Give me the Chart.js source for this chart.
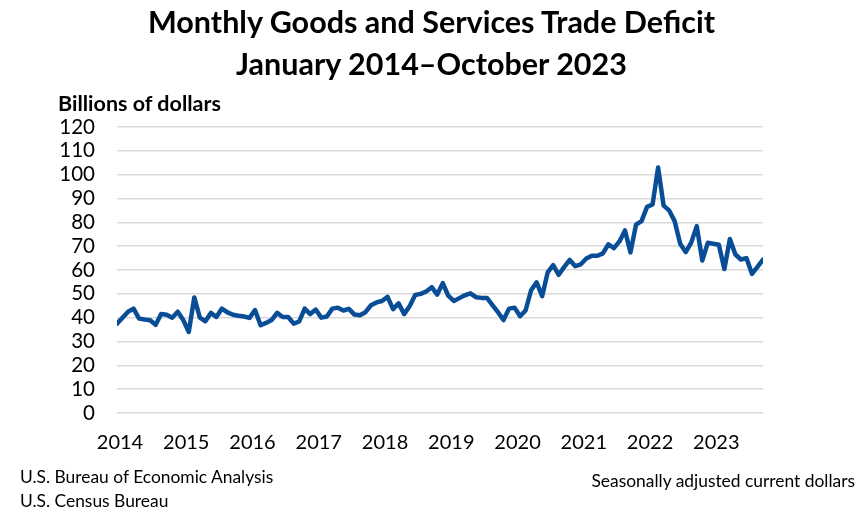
<!DOCTYPE html>
<html>
<head>
<meta charset="utf-8">
<script src="https://cdn.jsdelivr.net/npm/chart.js@4/dist/chart.umd.min.js"></script>
<style>
  html, body { margin: 0; padding: 0; background: #fff; }
  #wrap { position: relative; width: 863px; height: 524px; font-family: Lato, "Open Sans", sans-serif; color: #000; }
  #c { position: absolute; left: 0; top: 0; }
  .t { position: absolute; white-space: nowrap; }
  #title { left: 0; width: 863px; text-align: center; top: 0px; font-weight: bold; font-size: 30.5px; line-height: 42px; }
  #ylab { left: 58px; top: 90px; font-weight: bold; font-size: 21.5px; }
  #src1 { left: 20px; top: 466px; font-size: 17.4px; }
  #src2 { left: 20px; top: 490px; font-size: 17.4px; }
  #note { right: 8px; top: 470px; font-size: 17.4px; }
</style>
</head>
<body>
<div id="wrap">
  <canvas id="c" width="863" height="524"></canvas>
  <div class="t" id="title">Monthly Goods and Services Trade Deficit<br>January 2014–October 2023</div>
  <div class="t" id="ylab">Billions of dollars</div>
  <div class="t" id="src1">U.S. Bureau of Economic Analysis</div>
  <div class="t" id="src2">U.S. Census Bureau</div>
  <div class="t" id="note">Seasonally adjusted current dollars</div>
</div>
<script>
// Tick labels (one per January)
const yearLabels = ["2014","2015","2016","2017","2018","2019","2020","2021","2022","2023"];
const yTicks = [0,10,20,30,40,50,60,70,80,90,100,110,120];

// Monthly deficit, billions of dollars, Jan 2014 – Oct 2023
const deficit2014 = [37.5, 40.0, 42.5, 43.8, 39.6, 39.2, 38.9, 37.0, 41.5, 41.2, 40.0, 42.5];
const deficit2015 = [39.0, 34.0, 48.5, 40.0, 38.5, 42.0, 40.3, 43.8, 42.2, 41.2, 40.8, 40.5];
const deficit2016 = [39.9, 43.2, 36.8, 37.8, 39.0, 42.0, 40.3, 40.3, 37.5, 38.4, 43.8, 41.5];
const deficit2017 = [43.4, 40.0, 40.5, 43.8, 44.2, 43.0, 43.7, 41.3, 41.0, 42.3, 45.2, 46.4];
const deficit2018 = [47.0, 48.7, 43.6, 46.0, 41.5, 44.8, 49.5, 50.0, 51.0, 52.8, 49.7, 54.5];
const deficit2019 = [49.2, 47.0, 48.2, 49.4, 50.2, 48.6, 48.3, 48.3, 45.3, 42.3, 39.0, 43.8];
const deficit2020 = [44.2, 40.6, 43.0, 51.5, 54.8, 49.0, 59.0, 62.0, 58.0, 61.3, 64.2, 61.6];
const deficit2021 = [62.4, 64.8, 66.0, 66.0, 67.0, 70.8, 69.2, 72.0, 76.6, 67.4, 79.0, 80.5];
const deficit2022 = [86.5, 87.5, 103.0, 87.0, 85.0, 80.5, 71.0, 67.5, 71.5, 78.4, 64.0, 71.4];
const deficit2023 = [71.0, 70.6, 60.4, 73.0, 66.5, 64.4, 65.0, 58.4, 61.3, 64.4];

const deficit = [].concat(deficit2014, deficit2015, deficit2016, deficit2017, deficit2018,
                          deficit2019, deficit2020, deficit2021, deficit2022, deficit2023);
const points = deficit.map((v, i) => ({ x: i, y: v }));

const FONT = "Lato, 'Open Sans', sans-serif";

new Chart(document.getElementById('c'), {
  type: 'line',
  data: {
    datasets: [{
      data: points,
      borderColor: '#0a4d97',
      borderWidth: 4.5,
      pointRadius: 0,
      tension: 0,
      fill: false,
      borderJoinStyle: 'round',
      borderCapStyle: 'round'
    }]
  },
  options: {
    responsive: false,
    animation: false,
    layout: { padding: { top: 127, right: 100, bottom: 0, left: 0 } },
    plugins: { legend: { display: false }, tooltip: { enabled: false }, title: { display: false } },
    scales: {
      x: {
        type: 'linear',
        min: 0,
        max: deficit.length - 1,
        afterBuildTicks: (s) => { s.ticks = yearLabels.map((_, k) => ({ value: k * 12 })); },
        afterFit: (s) => { s.height = 111; },
        grid: { display: false, drawTicks: false },
        border: { display: false },
        ticks: {
          autoSkip: false,
          maxRotation: 0,
          padding: 18,
          labelOffset: 3,
          color: '#000',
          font: { family: FONT, size: 20 },
          callback: (v) => yearLabels[Math.round(v / 12)]
        }
      },
      y: {
        min: 0,
        max: 120,
        afterBuildTicks: (s) => { s.ticks = yTicks.map(v => ({ value: v })); },
        afterFit: (s) => { s.width = 117; },
        grid: { color: '#d9d9d9', lineWidth: 1.5, drawTicks: false },
        border: { display: false },
        ticks: {
          autoSkip: false,
          padding: 22,
          color: '#000',
          font: { family: FONT, size: 20.5 }
        }
      }
    }
  }
});
</script>
</body>
</html>
